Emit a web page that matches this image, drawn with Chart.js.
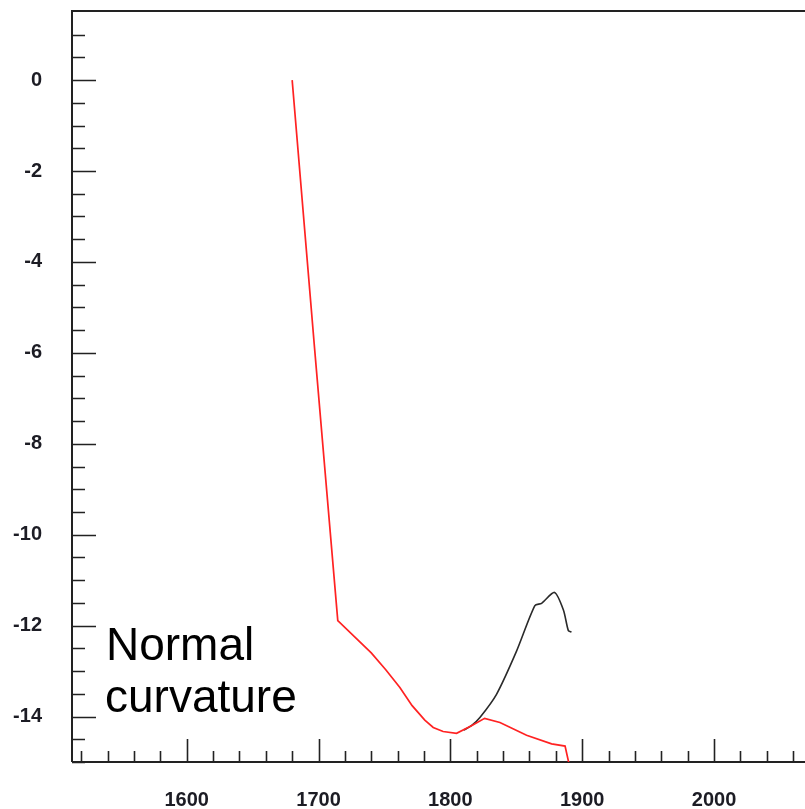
<!DOCTYPE html>
<html>
<head>
<meta charset="utf-8">
<script src="https://cdn.jsdelivr.net/npm/chart.js@4.4.0/dist/chart.umd.min.js"></script>
<style>
  html, body { margin: 0; padding: 0; background: #fff; }
  #wrap { width: 805px; height: 809px; position: relative; }
</style>
</head>
<body>
<div id="wrap"><canvas id="curv"></canvas></div>
<script>
// red curve (normal curvature)
const redYears = [1680, 1697, 1714.6, 1740, 1751, 1761.7, 1771, 1780.6, 1787, 1794.5, 1804.7, 1816, 1826, 1837.6, 1857.8, 1876.8, 1887, 1892];
const redVals  = [0, -5.9, -11.89, -12.6, -12.97, -13.36, -13.76, -14.08, -14.24, -14.33, -14.37, -14.2, -14.04, -14.13, -14.41, -14.6, -14.65, -15.3];
// black branch
const blackYears = [1810, 1816, 1822.4, 1835, 1850.2, 1864.1, 1869.2, 1879, 1885.8, 1889.5, 1891.9];
const blackVals  = [-14.3, -14.2, -14.02, -13.51, -12.56, -11.56, -11.51, -11.27, -11.66, -12.11, -12.14];

const xTicks = [1600, 1700, 1800, 1900, 2000];
const yTicks = [0, -2, -4, -6, -8, -10, -12, -14];

const toPts = (xs, ys) => xs.map((x, i) => ({ x: x, y: ys[i] }));

const labelFont = { family: "'Liberation Sans', Arial, sans-serif", size: 20, weight: 'bold' };
const inkColor = '#1c1c24';

// axes drawn by hand so the tick marks point inward
const axesPlugin = {
    id: 'axesPlugin',
    beforeDatasetsDraw(chart) {
        const { ctx, chartArea, scales } = chart;
        const xs = scales.x, ys = scales.y;
        ctx.save();
        ctx.strokeStyle = '#222';
        ctx.lineWidth = 2;
        ctx.beginPath();
        ctx.moveTo(chartArea.left, chartArea.bottom);
        ctx.lineTo(chartArea.left, chartArea.top);
        ctx.lineTo(chartArea.right, chartArea.top);
        ctx.moveTo(chartArea.left, chartArea.bottom);
        ctx.lineTo(chartArea.right, chartArea.bottom);
        ctx.stroke();

        ctx.lineWidth = 1.6;
        ctx.beginPath();
        // x ticks every 20, major every 100
        for (let v = 1520; v <= xs.max; v += 20) {
            const px = Math.round(xs.getPixelForValue(v)) + 0.5;
            const len = (v % 100 === 0) ? 23 : 11;
            ctx.moveTo(px, chartArea.bottom);
            ctx.lineTo(px, chartArea.bottom - len);
        }
        // y ticks every 0.5, major every 2
        for (let v = -15; v < ys.max - 0.1; v += 0.5) {
            const py = Math.round(ys.getPixelForValue(v)) + 0.5;
            const len = (Math.abs(v % 2) < 1e-9) ? 24 : 13;
            ctx.moveTo(chartArea.left, py);
            ctx.lineTo(chartArea.left + len, py);
        }
        ctx.stroke();
        ctx.restore();
    },
    afterDraw(chart) {
        const { ctx, chartArea } = chart;
        ctx.save();
        ctx.fillStyle = '#000';
        ctx.font = "46px 'Liberation Sans', Arial, sans-serif";
        ctx.textAlign = 'left';
        ctx.textBaseline = 'alphabetic';
        ctx.fillText('Normal', chartArea.left + 34, 660);
        ctx.fillText('curvature', chartArea.left + 33, 712);
        ctx.restore();
    }
};

new Chart(document.getElementById('curv').getContext('2d'), {
    type: 'line',
    data: {
        datasets: [
            {
                label: 'red',
                data: toPts(redYears, redVals),
                borderColor: '#ff2222',
                borderWidth: 1.7,
                pointRadius: 0,
                tension: 0,
                fill: false
            },
            {
                label: 'black',
                data: toPts(blackYears, blackVals),
                borderColor: '#2a2a2a',
                borderWidth: 1.6,
                pointRadius: 0,
                tension: 0.25,
                fill: false
            }
        ]
    },
    options: {
        responsive: true,
        maintainAspectRatio: false,
        animation: false,
        layout: { padding: { top: 11, left: 0, right: 0, bottom: 0 } },
        plugins: {
            legend: { display: false },
            tooltip: { enabled: false }
        },
        scales: {
            x: {
                type: 'linear',
                min: 1513,
                max: 2069,
                grid: { display: false, drawTicks: false },
                border: { display: false },
                afterBuildTicks: (s) => { s.ticks = xTicks.map(v => ({ value: v })); },
                afterFit: (s) => { s.height = 47; s.paddingLeft = 0; s.paddingRight = 0; },
                ticks: { font: labelFont, color: inkColor, padding: 26, maxRotation: 0,
                         callback: (v) => String(v) }
            },
            y: {
                type: 'linear',
                min: -15,
                max: 1.52,
                grid: { display: false, drawTicks: false },
                border: { display: false },
                afterBuildTicks: (s) => { s.ticks = yTicks.map(v => ({ value: v })); },
                afterFit: (s) => { s.width = 72; s.paddingTop = 0; s.paddingBottom = 0; },
                ticks: { font: labelFont, color: inkColor, padding: 30,
                         callback: (v) => String(v) }
            }
        }
    },
    plugins: [axesPlugin]
});
</script>
</body>
</html>
